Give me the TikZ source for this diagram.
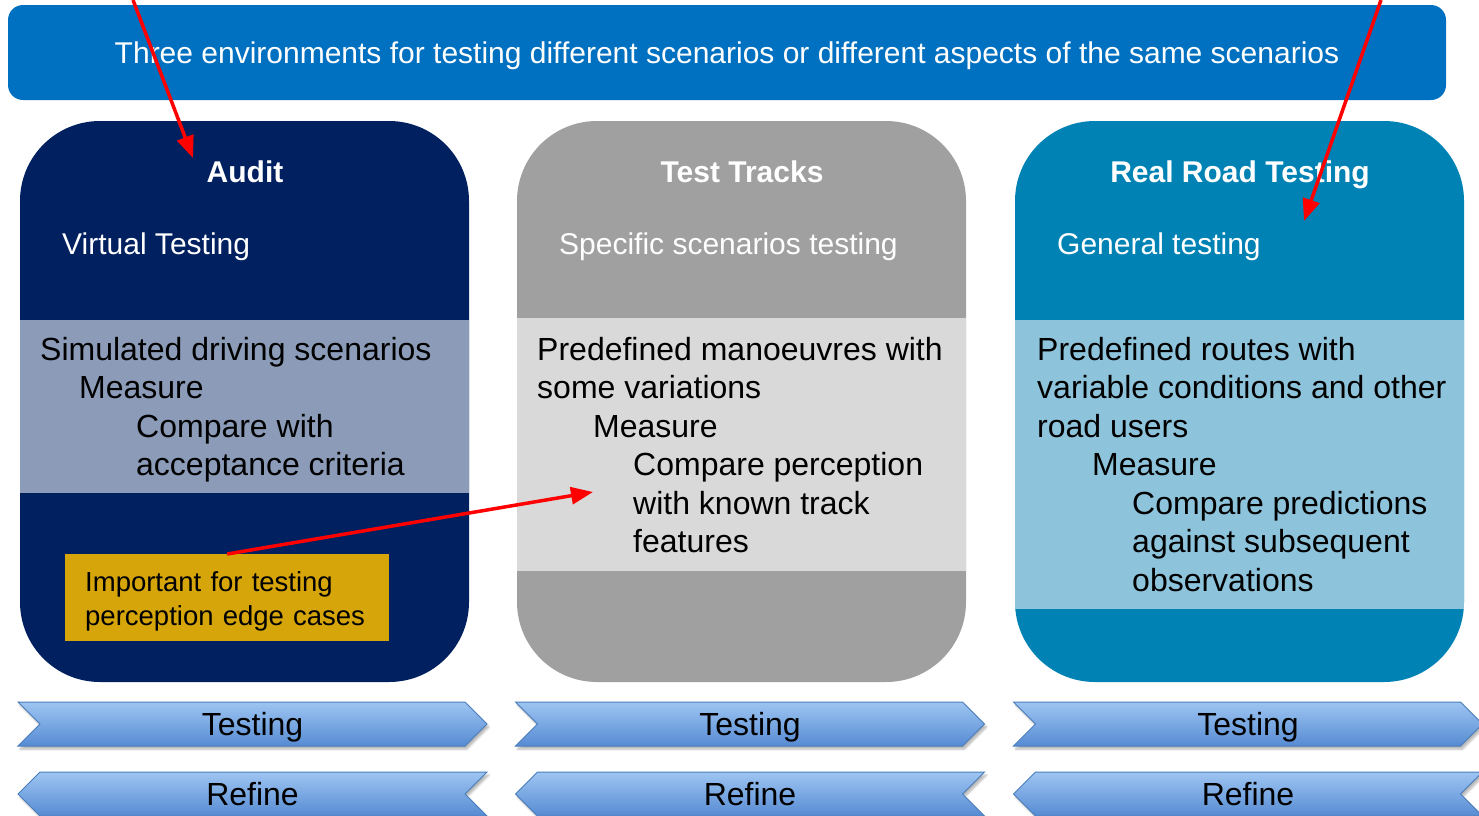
\documentclass[tikz,border=0pt]{standalone}
\usepackage{fontspec}
\setmainfont{Liberation Sans}
\usetikzlibrary{arrows.meta,shapes.symbols,shadows.blur}
\definecolor{bannerblue}{RGB}{0,112,192}
\definecolor{auditnavy}{RGB}{0,32,96}
\definecolor{auditband}{RGB}{139,155,184}
\definecolor{trackgray}{RGB}{160,160,160}
\definecolor{trackband}{RGB}{217,217,217}
\definecolor{roadteal}{RGB}{0,131,180}
\definecolor{roadband}{RGB}{141,196,220}
\definecolor{notegold}{RGB}{214,165,10}
\definecolor{chevtop}{RGB}{158,197,242}
\definecolor{chevbot}{RGB}{86,139,211}
\definecolor{chevline}{RGB}{74,126,187}
\tikzset{
  panel/.style={rounded corners=80, minimum width=449, minimum height=561, inner sep=0},
  band/.style={anchor=north west, minimum width=449, inner sep=0},
  title/.style={anchor=base, inner sep=0, text=white, font=\fontsize{30}{36}\selectfont\bfseries},
  subtitle/.style={anchor=base west, inner sep=0, text=white, font=\fontsize{30}{36}\selectfont},
  body/.style={anchor=north west, inner sep=0, align=left, font=\fontsize{32}{38.5}\selectfont},
  chevron/.style={signal, signal pointer angle=90, draw=chevline, line width=1,
    top color=chevtop, bottom color=chevbot, minimum width=469, minimum height=44,
    inner sep=0, text depth=0, font=\fontsize{32}{36}\selectfont,
    blur shadow={shadow xshift=2, shadow yshift=-3, shadow blur steps=6, shadow opacity=30}},
  fwd/.style={chevron, signal to=east, signal from=west},
  back/.style={chevron, signal to=west, signal from=east},
  redarrow/.style={draw=red, line width=3.5, -{Triangle[length=22,width=17]}}
}
\begin{document}
\begin{tikzpicture}[x=1pt,y=-1pt]
    \useasboundingbox (0,0) rectangle (1479,815);
    \node (banner) [fill=bannerblue, rounded corners=15, minimum width=1438, minimum height=95,
      text depth=0, text=white, font=\fontsize{30}{36}\selectfont] at (727,52.5)
      {Three environments for testing different scenarios or different aspects of the same scenarios};

    \node (audit) [panel, fill=auditnavy] at (244.5,401.5) {};
    \node (track) [panel, fill=trackgray] at (741.5,401.5) {};
    \node (road) [panel, fill=roadteal] at (1239.5,401.5) {};

    \node (auditband) [band, fill=auditband, minimum height=173] at (20,320) {};
    \node (trackband) [band, fill=trackband, minimum height=253] at (517,318) {};
    \node (roadband) [band, fill=roadband, minimum height=289] at (1015,320) {};

    \node (audittitle) [title] at (245,182) {Audit};
    \node (tracktitle) [title] at (742,182) {Test Tracks};
    \node (roadtitle) [title] at (1240,182) {Real Road Testing};

    \node (auditsub) [subtitle] at (62,254) {Virtual Testing};
    \node (tracksub) [subtitle] at (559,254) {Specific scenarios testing};
    \node (roadsub) [subtitle] at (1057,254) {General testing};

    \node (audittext) [body] at (40,337) {Simulated driving scenarios\\
      \hspace*{39pt}Measure\\
      \hspace*{96pt}Compare with\\
      \hspace*{96pt}acceptance criteria};
    \node (tracktext) [body] at (537,337) {Predefined manoeuvres with\\
      some variations\\
      \hspace*{56pt}Measure\\
      \hspace*{96pt}Compare perception\\
      \hspace*{96pt}with known track\\
      \hspace*{96pt}features};
    \node (roadtext) [body] at (1037,337) {Predefined routes with\\
      variable conditions and other\\
      road users\\
      \hspace*{55pt}Measure\\
      \hspace*{95pt}Compare predictions\\
      \hspace*{95pt}against subsequent\\
      \hspace*{95pt}observations};

    \node (note) [anchor=north west, fill=notegold, minimum width=324, minimum height=87,
      inner xsep=20, inner ysep=0, text width=284, align=left,
      font=\fontsize{27.5}{34}\selectfont] at (65,554)
      {\rule{0pt}{27pt}Important for testing\\perception edge cases};

    \node (test1) [fwd] at (252.5,724) {Testing};
    \node (test2) [fwd] at (750,724) {Testing};
    \node (test3) [fwd] at (1248,724) {Testing};
    \node (refine1) [back] at (252.5,794) {Refine};
    \node (refine2) [back] at (750,794) {Refine};
    \node (refine3) [back] at (1248,794) {Refine};

    \coordinate (leftfrom) at (133,0);
    \coordinate (leftto) at (193,158);
    \coordinate (rightfrom) at (1381,0);
    \coordinate (rightto) at (1304,221);
    \coordinate (noteto) at (593,492);
    \draw [redarrow] (leftfrom) -- (leftto);
    \draw [redarrow] (rightfrom) -- (rightto);
    \draw [redarrow] (note.north) -- (noteto);
\end{tikzpicture}
\end{document}
